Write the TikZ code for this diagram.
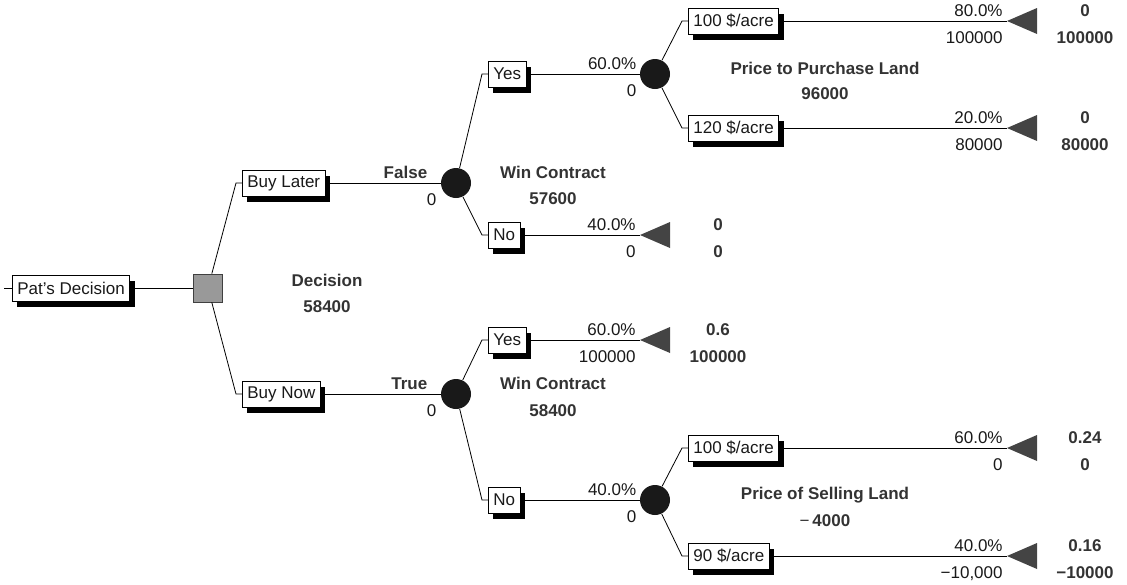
\documentclass[tikz,border=0pt]{standalone}
\usepackage{fontspec}
\setmainfont{Liberation Sans}
\usetikzlibrary{shadows}
\definecolor{nodegray}{HTML}{999999}
\definecolor{endgray}{HTML}{444444}
\definecolor{txtgray}{HTML}{333333}
\begin{document}
\begin{tikzpicture}[x=1pt, y=-1pt, line width=0.8pt,
    every node/.style={font=\fontsize{17}{20}\selectfont, text=black!90},
    branch/.style={draw, fill=white, inner xsep=5pt, inner ysep=0pt,
      minimum height=26pt, anchor=west,
      general shadow={shadow xshift=5pt, shadow yshift=-6pt, fill=black}},
    chance/.style={circle, fill=black!90, minimum size=30pt, inner sep=0pt},
    decide/.style={draw=black!75, fill=nodegray, minimum width=29pt,
      minimum height=28pt, inner sep=0pt},
    val/.style={font=\bfseries\fontsize{17}{20}\selectfont, text=txtgray,
      anchor=base, inner sep=0pt},
    probtxt/.style={anchor=base east, inner sep=0pt, yshift=5pt},
    paytxt/.style={anchor=base east, inner sep=0pt, yshift=-22pt}]
  \useasboundingbox (0,0) rectangle (1127,584);

  % decision node and its two branches
  \coordinate (in) at (4,288);
  \node[branch] (pat) at (12,288) {Pat’s Decision};
  \node[decide] (dec) at (208,288) {};
  \node[branch] (later) at (242,183) {Buy Later};
  \node[branch] (now) at (242,394) {Buy Now};
  \node[chance] (winA) at (456,183) {};
  \node[chance] (winB) at (456,394) {};

  % buy later
  \node[branch] (yesA) at (488,74) {Yes};
  \node[branch] (noA) at (488,235) {No};
  \node[chance] (buy) at (655,74) {};
  \node[branch] (buyA) at (688,21) {100 \$/acre};
  \node[branch] (buyB) at (688,128) {120 \$/acre};

  % buy now
  \node[branch] (yesB) at (488,340) {Yes};
  \node[branch] (noB) at (488,500) {No};
  \node[chance] (sell) at (655,500) {};
  \node[branch] (sellA) at (688,448) {100 \$/acre};
  \node[branch] (sellB) at (688,556) {90 \$/acre};

  % end nodes
  \coordinate (endA) at (1007,21);
  \coordinate (endB) at (1007,128);
  \coordinate (endC) at (640,235);
  \coordinate (endD) at (640,340);
  \coordinate (endE) at (1007,448);
  \coordinate (endF) at (1007,556);
  \foreach \e in {endA,endB,endC,endD,endE,endF}
    \fill[endgray] (\e) -- ++(30,-13) -- ++(0,26) -- cycle;

  % connectors
  \draw (in) -- (pat) (pat) -- (dec);
  \foreach \a/\b in {dec/later, dec/now, winA/yesA, winA/noA, buy/buyA, buy/buyB,
      winB/yesB, winB/noB, sell/sellA, sell/sellB}
    \draw (\a) -- ([xshift=-6pt]\b.west) -- (\b.west);
  \foreach \a/\b in {later/winA, now/winB, yesA/buy, noB/sell, buyA/endA,
      buyB/endB, noA/endC, yesB/endD, sellA/endE, sellB/endF}
    \draw (\a) -- (\b);

  % probabilities, payoffs and end values
  \foreach \e/\p/\v/\r/\s in {endA/80.0\%/100000/0/100000, endB/20.0\%/80000/0/80000,
      endC/40.0\%/0/0/0, endD/60.0\%/100000/0.6/100000,
      endE/60.0\%/0/0.24/0, endF/40.0\%/{−10,000}/0.16/−10000} {
    \node[probtxt] (p-\e) at ([xshift=-4pt]\e) {\p};
    \node[paytxt] (v-\e) at ([xshift=-4pt]\e) {\v};
    \node[val, yshift=5pt] (r-\e) at ([xshift=78pt]\e) {\r};
    \node[val, yshift=-22pt] (s-\e) at ([xshift=78pt]\e) {\s};
  }
  \node[val, probtxt] (falseA) at ([xshift=-13pt]winA.west) {False};
  \node[paytxt] (zeroA) at ([xshift=-4pt]winA.west) {0};
  \node[val, probtxt] (trueB) at ([xshift=-13pt]winB.west) {True};
  \node[paytxt] (zeroB) at ([xshift=-4pt]winB.west) {0};
  \node[probtxt] (p-buy) at ([xshift=-3pt]buy.west) {60.0\%};
  \node[paytxt] (v-buy) at ([xshift=-3pt]buy.west) {0};
  \node[probtxt] (p-sell) at ([xshift=-3pt]sell.west) {40.0\%};
  \node[paytxt] (v-sell) at ([xshift=-3pt]sell.west) {0};

  % node names and expected values
  \node[val] (decname) at (327,286) {Decision};
  \node[val] (decval) at (327,312) {58400};
  \node[val] (winAname) at (553,178) {Win Contract};
  \node[val] (winAval) at (553,204) {57600};
  \node[val] (buyname) at (825,74) {Price to Purchase Land};
  \node[val] (buyval) at (825,99) {96000};
  \node[val] (winBname) at (553,389) {Win Contract};
  \node[val] (winBval) at (553,416) {58400};
  \node[val] (sellname) at (825,499) {Price of Selling Land};
  \node[val] (sellval) at (825,526) {{\mdseries −}\,4000};
\end{tikzpicture}
\end{document}
